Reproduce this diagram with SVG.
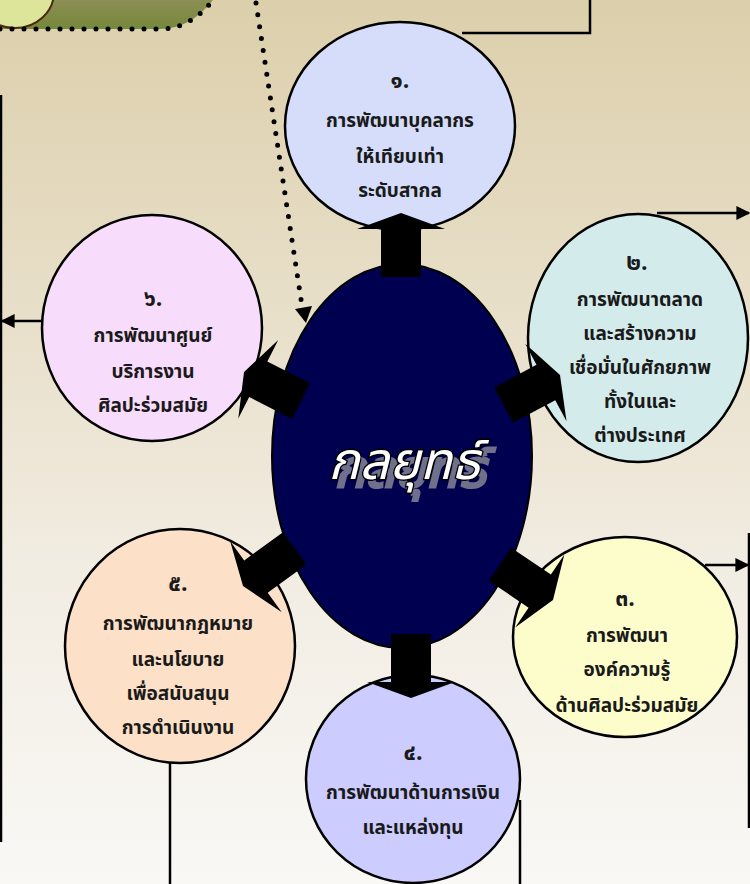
<svg xmlns="http://www.w3.org/2000/svg" width="750" height="884" viewBox="0 0 750 884">
<defs>
<linearGradient id="bg" x1="0" y1="0" x2="0" y2="1">
<stop offset="0" stop-color="#dccfab"/>
<stop offset="0.35" stop-color="#e8dfc9"/>
<stop offset="0.65" stop-color="#f2ede3"/>
<stop offset="1" stop-color="#f9f8f5"/>
</linearGradient>
<linearGradient id="olive" x1="0" y1="0" x2="0" y2="1">
<stop offset="0" stop-color="#8c8e55"/>
<stop offset="1" stop-color="#76883a"/>
</linearGradient>
<marker id="ahs" viewBox="0 0 10 10" refX="9" refY="5" markerWidth="14" markerHeight="14" orient="auto" markerUnits="userSpaceOnUse">
<path d="M0,0 L10,5 L0,10 z" fill="#000"/>
</marker>
<filter id="shadow" x="-20%" y="-20%" width="150%" height="160%">
<feFlood flood-color="#70708a"/>
<feComposite in2="SourceAlpha" operator="in"/>
<feOffset dx="6" dy="8" result="sh"/>
<feMerge><feMergeNode in="sh"/><feMergeNode in="SourceGraphic"/></feMerge>
</filter>
<path id="blk" d="M0,0 L44,16 L20,16 L20,64 L-20,64 L-20,16 L-44,16 Z"/>
</defs>
<style>
.ln{fill:none;stroke:#000;stroke-width:2.5}
.dot{fill:none;stroke:#000;stroke-width:5;stroke-linecap:round;stroke-dasharray:0 12}
.c{stroke:#000;stroke-width:2.5}
.t{font-family:"Noto Sans Thai","Noto Sans","DejaVu Sans",sans-serif;font-weight:bold;font-size:19px;fill:#1a1a1a;text-anchor:middle}
.n{font-size:23px}
.ar{fill:#000}
</style>
<rect width="750" height="884" fill="url(#bg)"/>

<g id="topleft">
<path d="M0,0 L213,0 Q190,29 160,29 L0,29 Z" fill="url(#olive)"/>
<ellipse cx="15" cy="-8" rx="39" ry="36" fill="#dde59a" stroke="#4a2a10" stroke-width="2"/>
<path class="dot" d="M0,29 L160,29 Q190,29 213,0"/>
</g>

<g id="connectors">
<path class="dot" d="M256,3 L302,306"/>
<path d="M295,309 L312,306 L306,323 Z" fill="#000"/>
<polyline class="ln" points="590,0 590,33 462,33"/>
<line class="ln" x1="657" y1="213" x2="749" y2="213" marker-end="url(#ahs)"/>
<line class="ln" x1="1" y1="95" x2="1" y2="842"/>
<line class="ln" x1="42" y1="321" x2="2" y2="321" marker-end="url(#ahs)"/>
<line class="ln" x1="749" y1="533" x2="749" y2="828"/>
<line class="ln" x1="705" y1="565" x2="748" y2="565" marker-end="url(#ahs)"/>
<line class="ln" x1="170" y1="762" x2="170" y2="884"/>
<line class="ln" x1="520" y1="800" x2="520" y2="884"/>
</g>

<g id="n1">
<ellipse class="c" cx="400" cy="126" rx="115" ry="104" fill="#d5ddfb"/>
<text class="t n" x="400" y="88">๑.</text>
<text class="t" x="400" y="127">การพัฒนาบุคลากร</text>
<text class="t" x="400" y="163">ให้เทียบเท่า</text>
<text class="t" x="400" y="197">ระดับสากล</text>
</g>
<g id="n2">
<ellipse class="c" cx="638" cy="338" rx="110" ry="124" fill="#d4ebec"/>
<text class="t n" x="637" y="270">๒.</text>
<text class="t" x="640" y="306">การพัฒนาตลาด</text>
<text class="t" x="640" y="340">และสร้างความ</text>
<text class="t" x="640" y="374">เชื่อมั่นในศักยภาพ</text>
<text class="t" x="640" y="408">ทั้งในและ</text>
<text class="t" x="640" y="442">ต่างประเทศ</text>
</g>
<g id="n3">
<ellipse class="c" cx="625" cy="637" rx="112" ry="100" fill="#fdfdcc"/>
<text class="t n" x="625" y="606">๓.</text>
<text class="t" x="627" y="642">การพัฒนา</text>
<text class="t" x="627" y="676">องค์ความรู้</text>
<text class="t" x="627" y="712">ด้านศิลปะร่วมสมัย</text>
</g>
<g id="n4">
<ellipse class="c" cx="413" cy="779" rx="107" ry="104" fill="#ccccfe"/>
<text class="t n" x="413" y="760">๔.</text>
<text class="t" x="413" y="799">การพัฒนาด้านการเงิน</text>
<text class="t" x="413" y="834">และแหล่งทุน</text>
</g>
<g id="n5">
<ellipse class="c" cx="180" cy="646" rx="115" ry="117" fill="#fde0c8"/>
<text class="t n" x="178" y="591">๕.</text>
<text class="t" x="178" y="630">การพัฒนากฎหมาย</text>
<text class="t" x="178" y="666">และนโยบาย</text>
<text class="t" x="178" y="700">เพื่อสนับสนุน</text>
<text class="t" x="178" y="734">การดำเนินงาน</text>
</g>
<g id="n6">
<ellipse class="c" cx="152" cy="328" rx="110" ry="113" fill="#f8dcfc"/>
<text class="t n" x="153" y="306">๖.</text>
<text class="t" x="153" y="342">การพัฒนาศูนย์</text>
<text class="t" x="153" y="378">บริการงาน</text>
<text class="t" x="153" y="412">ศิลปะร่วมสมัย</text>
</g>

<g id="center">
<ellipse cx="402" cy="456" rx="130" ry="192" fill="#000050" stroke="#000" stroke-width="2"/>
<text x="404" y="479" font-family="Noto Sans Thai,Noto Sans,DejaVu Sans,sans-serif" font-size="52" font-style="italic" text-anchor="middle" fill="#fff" stroke="#000" stroke-width="3" paint-order="stroke" filter="url(#shadow)">กลยุทธ์</text>
</g>

<g id="block-arrows" class="ar">
<use href="#blk" transform="translate(401,213)" />
<use href="#blk" transform="translate(560,375) rotate(62)"/>
<use href="#blk" transform="translate(553,600) rotate(124)"/>
<use href="#blk" transform="translate(411,698) rotate(180)"/>
<use href="#blk" transform="translate(243,586) rotate(-126)"/>
<use href="#blk" transform="translate(244,372) rotate(-63)"/>
</g>
</svg>
